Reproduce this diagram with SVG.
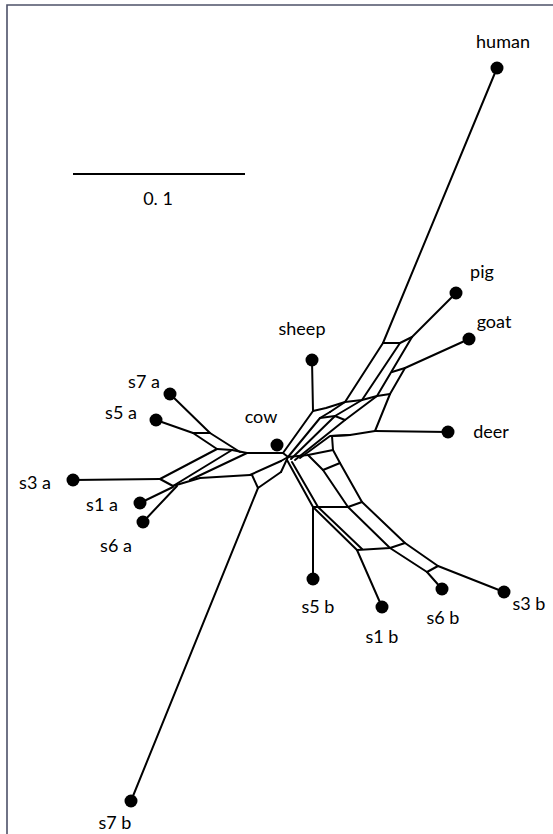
<svg xmlns="http://www.w3.org/2000/svg" width="553" height="834" viewBox="0 0 553 834">
<style>
.e{fill:none;stroke:#000;stroke-width:2;stroke-linejoin:round;stroke-linecap:round}
.d{fill:#000}
.t{font-family:Lato,"Open Sans",sans-serif;font-size:18px;fill:#000;text-anchor:middle}
.f{fill:none;stroke:#4d5168;stroke-width:1.6}
</style>
<rect width="553" height="834" fill="#fff"/>
<path class="f" d="M7,834 V5 H553"/>
<g id="scale">
<line x1="73" y1="174" x2="245" y2="174" stroke="#000" stroke-width="2"/>
<text class="t" x="158" y="205">0. 1</text>
</g>
<g id="connectors" class="e">
<!-- leaf edges -->
<path d="M497,68 L383,343"/>
<path d="M456,293 L412,337"/>
<path d="M469,339 L405,368"/>
<path d="M448,432 L375,431"/>
<path d="M312,360 L313,411"/>
<path d="M170,394 L210,433 L240,452"/>
<path d="M156,420 L193,433 L217,449"/>
<path d="M73,480 L160,479"/>
<path d="M140,503 L173,487"/>
<path d="M143,522 L177,486"/>
<path d="M313,579 L313,507"/>
<path d="M382,607 L357,550"/>
<path d="M442,589 L427,572"/>
<path d="M504,592 L438,566"/>
<path d="M131,801 L258,488"/>
<!-- left cluster -->
<path d="M193,433 L210,433"/>
<path d="M217,449 L232,450 L247,453 L283,453"/>
<path d="M160,479 L217,449"/>
<path d="M173,486 L232,450"/>
<path d="M190,480 L247,453"/>
<path d="M160,479 L173,486 L200,478 L250,475"/>
<path d="M250,475 L281,461"/>
<path d="M252,475 L258,488 L281,472"/>
<!-- hub -->
<path d="M281,461 L288,457 L283,453"/>
<path d="M281,472 L288,457"/>
<!-- centre band up-right -->
<path d="M283,453 L313,411"/>
<path d="M313,411 L326,408 L345,402"/>
<path d="M288,457 L320,418 L330,412"/>
<path d="M291,459 L335,416 L362,400"/>
<path d="M295,460 L345,420 L377,396"/>
<path d="M300,458 L330,436 L350,435"/>
<path d="M320,418 L335,416 L345,420"/>
<!-- upper right cluster -->
<path d="M383,343 L400,343 L412,337"/>
<path d="M383,343 L345,402"/>
<path d="M400,343 L362,400"/>
<path d="M412,337 L377,396"/>
<path d="M405,368 L392,372"/>
<path d="M405,368 L390,394"/>
<path d="M330,412 L345,402 L362,400 L377,396 L390,394"/>
<path d="M390,394 L375,431"/>
<path d="M375,431 L350,435 L332,436"/>
<!-- lower right cluster -->
<path d="M288,457 L308,455 L333,450"/>
<path d="M287,460 L313,507 L357,550"/>
<path d="M292,462 L318,507 L362,549"/>
<path d="M308,455 L323,470 L348,507 L390,548 L427,572"/>
<path d="M333,450 L340,463 L362,502 L405,543 L438,566"/>
<path d="M323,470 L340,463"/>
<path d="M313,507 L348,507 L362,502"/>
<path d="M357,550 L390,548 L405,543"/>
<path d="M427,572 L438,566"/>
<path d="M332,436 L333,450"/>
</g>
<g id="human"><circle class="d" cx="497" cy="68" r="6.5"/><text class="t" x="503" y="48">human</text></g>
<g id="pig"><circle class="d" cx="456" cy="293" r="6.5"/><text class="t" x="482" y="278">pig</text></g>
<g id="goat"><circle class="d" cx="469" cy="339" r="6.5"/><text class="t" x="494" y="328">goat</text></g>
<g id="deer"><circle class="d" cx="448" cy="432" r="6.5"/><text class="t" x="491" y="438">deer</text></g>
<g id="sheep"><circle class="d" cx="312" cy="360" r="6.5"/><text class="t" x="302" y="335">sheep</text></g>
<g id="cow"><circle class="d" cx="277" cy="445" r="6.5"/><text class="t" x="261" y="423">cow</text></g>
<g id="s7a"><circle class="d" cx="170" cy="394" r="6.5"/><text class="t" x="144" y="388">s7 a</text></g>
<g id="s5a"><circle class="d" cx="156" cy="420" r="6.5"/><text class="t" x="121" y="419">s5 a</text></g>
<g id="s3a"><circle class="d" cx="73" cy="480" r="6.5"/><text class="t" x="35" y="489">s3 a</text></g>
<g id="s1a"><circle class="d" cx="140" cy="503" r="6.5"/><text class="t" x="102" y="511">s1 a</text></g>
<g id="s6a"><circle class="d" cx="143" cy="522" r="6.5"/><text class="t" x="116" y="552">s6 a</text></g>
<g id="s5b"><circle class="d" cx="313" cy="579" r="6.5"/><text class="t" x="318" y="613">s5 b</text></g>
<g id="s1b"><circle class="d" cx="382" cy="607" r="6.5"/><text class="t" x="382" y="643">s1 b</text></g>
<g id="s6b"><circle class="d" cx="442" cy="589" r="6.5"/><text class="t" x="443" y="624">s6 b</text></g>
<g id="s3b"><circle class="d" cx="504" cy="592" r="6.5"/><text class="t" x="529" y="610">s3 b</text></g>
<g id="s7b"><circle class="d" cx="131" cy="801" r="6.5"/><text class="t" x="115" y="829">s7 b</text></g>
</svg>
